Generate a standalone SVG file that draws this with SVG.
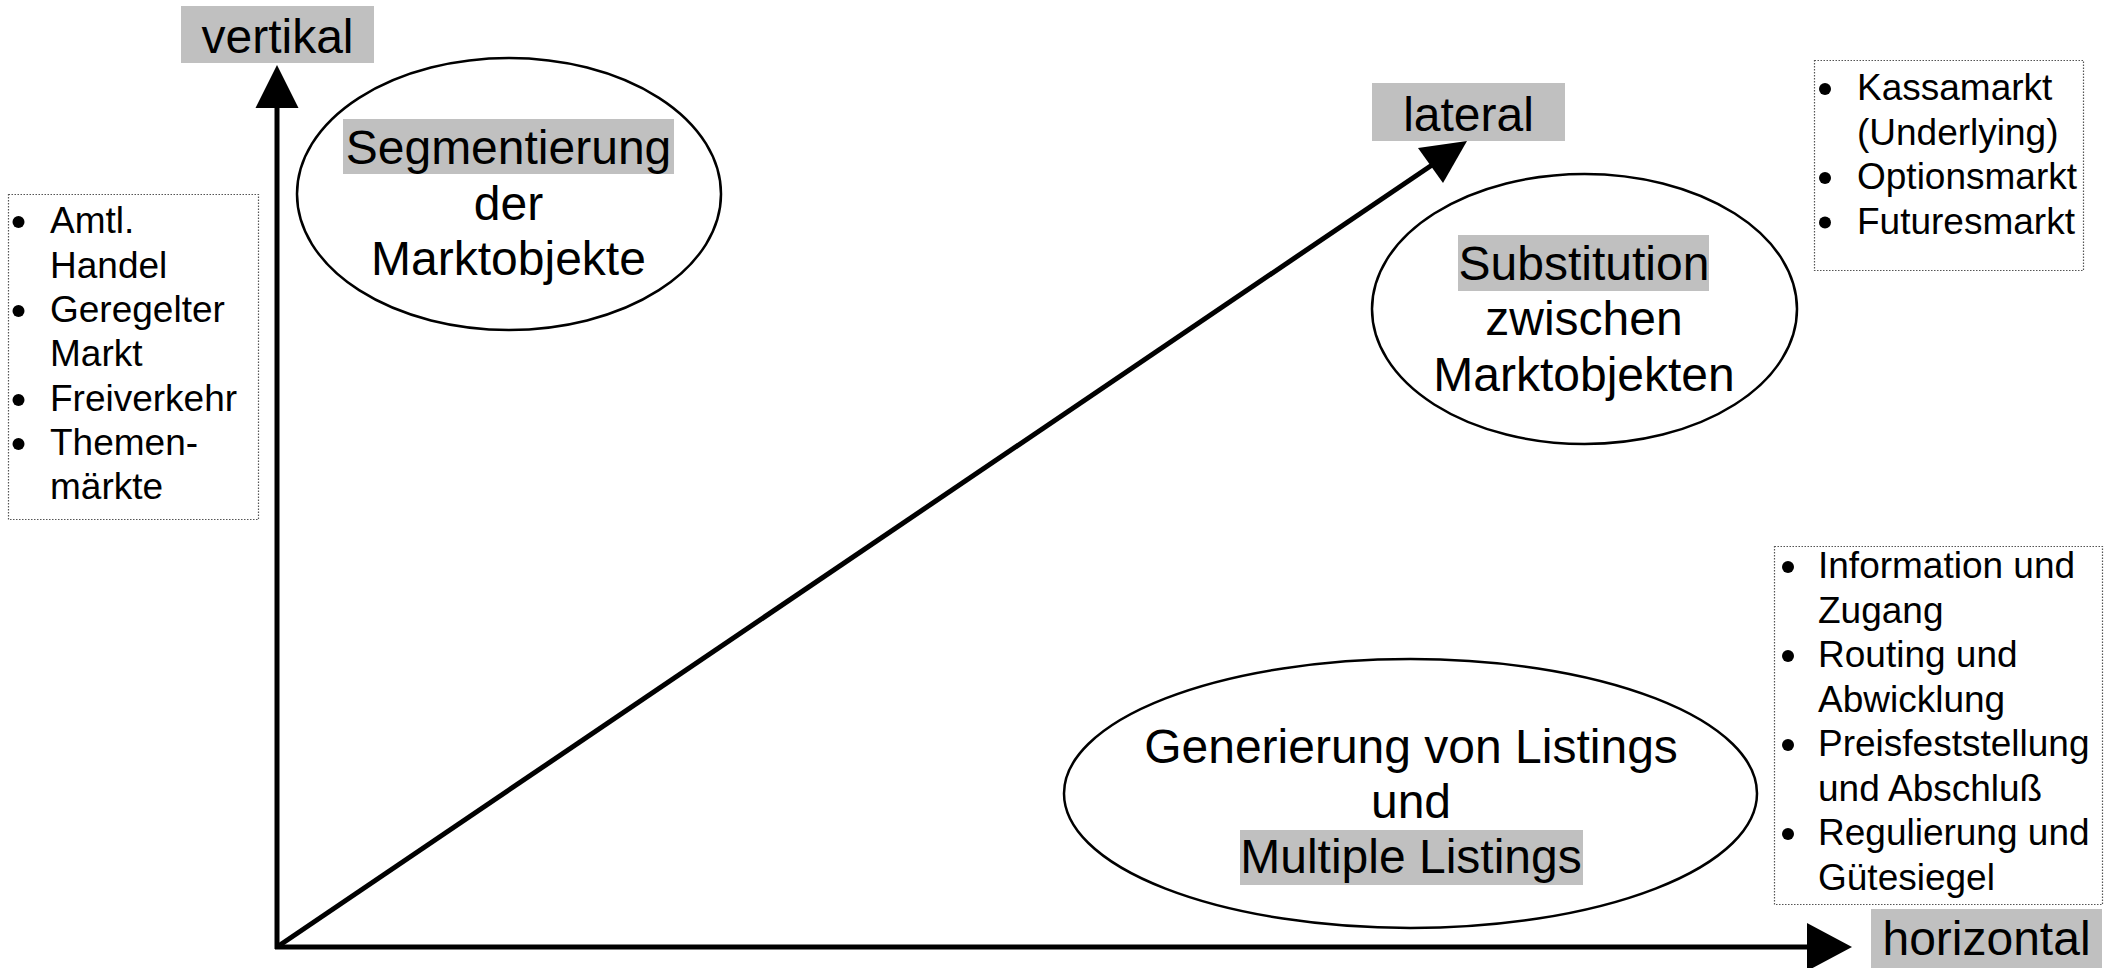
<svg xmlns="http://www.w3.org/2000/svg" width="2112" height="968" viewBox="0 0 2112 968">
<style>
text{font-family:"Liberation Sans",Arial,sans-serif;fill:#000}
.big{font-size:48px}
.mid{text-anchor:middle}
.li{font-size:37px}
.hl{fill:#c0c0c0}
.ell{fill:#fff;stroke:#000;stroke-width:2.5}
.box{fill:#fff;stroke:#555;stroke-width:1.2;stroke-dasharray:1.5 1.5}
.axis{stroke:#000;stroke-width:5;fill:none}
.head{fill:#000}
</style>
<rect width="2112" height="968" fill="#fff"/>
<g id="connectors">
<line class="axis" x1="277" y1="949" x2="277" y2="106"/>
<polygon class="head" points="277,65 255.5,108 298.5,108"/>
<line class="axis" x1="275" y1="947" x2="1809" y2="947"/>
<polygon class="head" points="1852,947 1807,923 1807,971"/>
<line class="axis" x1="277" y1="947" x2="1432" y2="165"/>
<polygon class="head" points="1467,141 1418,148 1443,183"/>
</g>
<g id="label-vertikal">
<rect class="hl" x="181" y="6" width="193" height="57"/>
<text class="big mid" x="277.5" y="53">vertikal</text>
</g>
<g id="label-lateral">
<rect class="hl" x="1372" y="83" width="193" height="58"/>
<text class="big mid" x="1468.5" y="131">lateral</text>
</g>
<g id="label-horizontal">
<rect class="hl" x="1871" y="909" width="231" height="59"/>
<text class="big mid" x="1986.5" y="955">horizontal</text>
</g>
<g id="node-segmentierung">
<ellipse class="ell" cx="509" cy="194" rx="212" ry="136"/>
<rect class="hl" x="343" y="119" width="331" height="55"/>
<text class="big mid" x="508.5" y="164">Segmentierung</text>
<text class="big mid" x="508.5" y="220">der</text>
<text class="big mid" x="508.5" y="275">Marktobjekte</text>
</g>
<g id="node-substitution">
<ellipse class="ell" cx="1584.5" cy="309" rx="212.5" ry="135"/>
<rect class="hl" x="1458" y="235" width="251" height="56"/>
<text class="big mid" x="1584" y="280">Substitution</text>
<text class="big mid" x="1584" y="335">zwischen</text>
<text class="big mid" x="1584" y="391">Marktobjekten</text>
</g>
<g id="node-generierung">
<ellipse class="ell" cx="1410.5" cy="793.5" rx="346.5" ry="134.5"/>
<rect class="hl" x="1240" y="830" width="343" height="55"/>
<text class="big mid" x="1411" y="763">Generierung von Listings</text>
<text class="big mid" x="1411" y="818">und</text>
<text class="big mid" x="1411" y="873">Multiple Listings</text>
</g>
<g id="list-vertikal">
<rect class="box" x="8.5" y="194.5" width="250" height="325"/>
<circle cx="18.5" cy="222" r="6"/>
<circle cx="18.5" cy="311" r="6"/>
<circle cx="18.5" cy="400" r="6"/>
<circle cx="18.5" cy="444" r="6"/>
<text class="li" x="50" y="233">Amtl.</text>
<text class="li" x="50" y="277.5">Handel</text>
<text class="li" x="50" y="322">Geregelter</text>
<text class="li" x="50" y="366">Markt</text>
<text class="li" x="50" y="410.5">Freiverkehr</text>
<text class="li" x="50" y="455">Themen-</text>
<text class="li" x="50" y="499">märkte</text>
</g>
<g id="list-lateral">
<rect class="box" x="1814.5" y="60.5" width="269" height="210"/>
<circle cx="1825" cy="89" r="6"/>
<circle cx="1825" cy="178" r="6"/>
<circle cx="1825" cy="222.5" r="6"/>
<text class="li" x="1857" y="100">Kassamarkt</text>
<text class="li" x="1857" y="144.5">(Underlying)</text>
<text class="li" x="1857" y="189">Optionsmarkt</text>
<text class="li" x="1857" y="233.5">Futuresmarkt</text>
</g>
<g id="list-horizontal">
<rect class="box" x="1774.5" y="546.5" width="328" height="358"/>
<circle cx="1788" cy="567" r="6"/>
<circle cx="1788" cy="656" r="6"/>
<circle cx="1788" cy="745" r="6"/>
<circle cx="1788" cy="834" r="6"/>
<text class="li" x="1818" y="578">Information und</text>
<text class="li" x="1818" y="622.5">Zugang</text>
<text class="li" x="1818" y="667">Routing und</text>
<text class="li" x="1818" y="711.5">Abwicklung</text>
<text class="li" x="1818" y="756">Preisfeststellung</text>
<text class="li" x="1818" y="800.5">und Abschluß</text>
<text class="li" x="1818" y="845">Regulierung und</text>
<text class="li" x="1818" y="889.5">Gütesiegel</text>
</g>
</svg>
